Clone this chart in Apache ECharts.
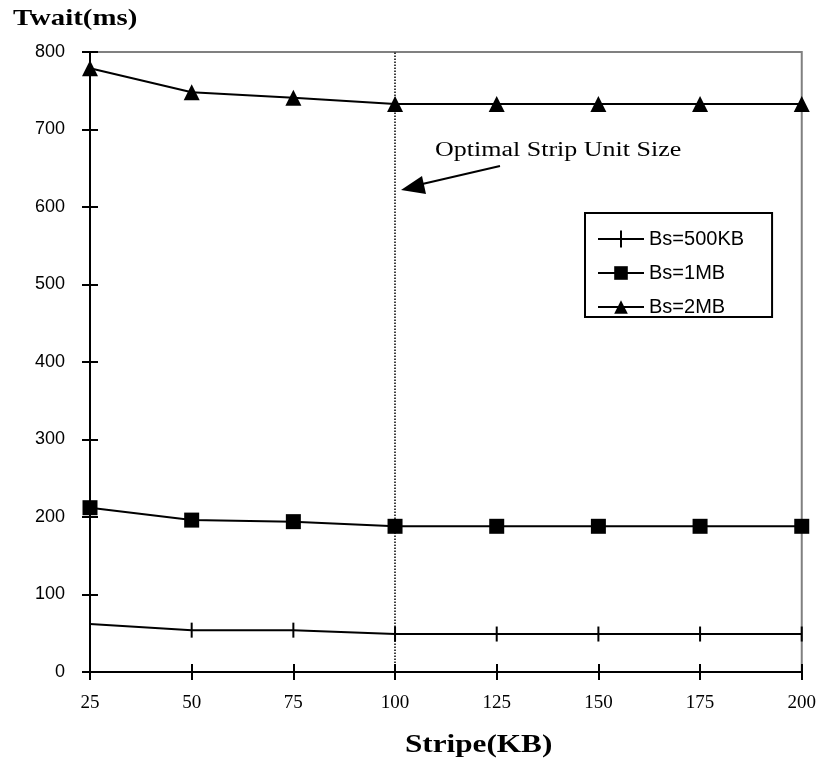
<!DOCTYPE html>
<html>
<head>
<meta charset="utf-8">
<script src="https://cdn.jsdelivr.net/npm/echarts@6/dist/echarts.min.js"></script>
<style>html,body{margin:0;padding:0;background:#fff;}#c{width:819px;height:764px;}</style>
</head>
<body>
<div id="c"></div>
<script>
const stripeKB = [25, 50, 75, 100, 125, 150, 175, 200];
const bs500KB = [62, 54, 54, 49, 49, 49, 49, 49];
const bs1MB = [212, 196, 194, 188, 188, 188, 188, 188];
const bs2MB = [779, 748, 741, 733, 733, 733, 733, 733];
const seriesNames = ['Bs=500KB', 'Bs=1MB', 'Bs=2MB'];
const optimalStripe = 100;

const chart = echarts.init(document.getElementById('c'));
const pairs = arr => stripeKB.map((x, i) => [x, arr[i]]);
const lineStyle = { color: '#000', width: 2 };
const common = { type: 'line', xAxisIndex: 0, yAxisIndex: 0, lineStyle, itemStyle: { color: '#000' }, animation: false, z: 5 };
const legendTickIcon = 'path://M0,7.5H46V9.5H0Z M22,0H24V17H22Z';

const xBase = { type: 'value', min: 25, max: 200, interval: 25, splitLine: { show: false } };
const yBase = { type: 'value', min: 0, max: 800, interval: 100, splitLine: { show: false } };

chart.setOption({
  animation: false,
  grid: { left: 90, right: 15, top: 52, bottom: 92, show: true, borderColor: '#808080', borderWidth: 2, backgroundColor: 'transparent' },
  xAxis: [
    Object.assign({}, xBase, {
      axisLine: { show: true, onZero: false, lineStyle: { color: '#000', width: 2 } },
      axisTick: { show: true, length: 8, lineStyle: { color: '#000', width: 2 } },
      axisLabel: { color: '#000', fontFamily: 'Liberation Serif, Times New Roman, serif', fontSize: 19, margin: 22 }
    }),
    Object.assign({}, xBase, {
      position: 'bottom',
      axisLine: { show: false },
      axisTick: { show: true, inside: true, length: 8, lineStyle: { color: '#000', width: 2 } },
      axisLabel: { show: false }
    })
  ],
  yAxis: [
    Object.assign({}, yBase, {
      axisLine: { show: true, onZero: false, lineStyle: { color: '#000', width: 2 } },
      axisTick: { show: true, length: 8, lineStyle: { color: '#000', width: 2 } },
      axisLabel: { color: '#000', fontFamily: 'Liberation Sans, Arial, sans-serif', fontSize: 18, margin: 25 }
    }),
    Object.assign({}, yBase, {
      position: 'left',
      axisLine: { show: false },
      axisTick: { show: true, inside: true, length: 8, lineStyle: { color: '#000', width: 2 } },
      axisLabel: { show: false }
    })
  ],
  legend: {
    orient: 'vertical',
    left: 585, top: 213,
    padding: [16, 28, 0, 12],
    itemGap: 14,
    itemWidth: 46, itemHeight: 17,
    borderColor: '#000', borderWidth: 2, backgroundColor: '#fff',
    textStyle: { color: '#000', fontFamily: 'Liberation Sans, Arial, sans-serif', fontSize: 20 },
    data: [
      { name: seriesNames[0], icon: legendTickIcon, itemStyle: { color: '#000' } },
      { name: seriesNames[1] },
      { name: seriesNames[2] }
    ]
  },
  series: [
    Object.assign({}, common, {
      name: seriesNames[0], data: pairs(bs500KB), symbol: 'rect', symbolSize: [2, 15],
      markLine: {
        silent: true, symbol: 'none', label: { show: false },
        lineStyle: { color: '#000', type: 'dotted', width: 1.5 },
        data: [{ xAxis: optimalStripe }]
      }
    }),
    Object.assign({}, common, { name: seriesNames[1], data: pairs(bs1MB), symbol: 'rect', symbolSize: 15 }),
    Object.assign({}, common, { name: seriesNames[2], data: pairs(bs2MB), symbol: 'triangle', symbolSize: 16 })
  ],
  graphic: [
    { type: 'text', x: 13, y: 7, scaleX: 1.2, style: { text: 'Twait(ms)', font: 'bold 24px "Liberation Serif", "Times New Roman", serif', fill: '#000' } },
    { type: 'text', x: 405, y: 732, scaleX: 1.2, style: { text: 'Stripe(KB)', font: 'bold 26px "Liberation Serif", "Times New Roman", serif', fill: '#000' } },
    { type: 'text', x: 435, y: 141, scaleX: 1.3, style: { text: 'Optimal Strip Unit Size', font: '20px "Liberation Serif", "Times New Roman", serif', fill: '#000' } },
    { type: 'line', shape: { x1: 500, y1: 166, x2: 418, y2: 185 }, style: { stroke: '#000', lineWidth: 2 } },
    { type: 'polygon', shape: { points: [[401, 190], [422, 176], [426, 194]] }, style: { fill: '#000' } }
  ]
});
</script>
</body>
</html>
